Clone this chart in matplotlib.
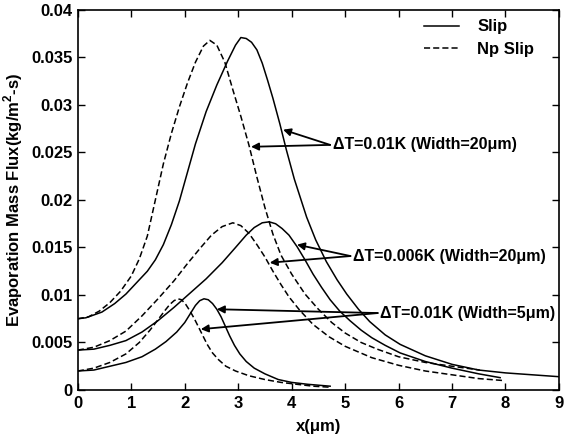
import numpy as np
import matplotlib
matplotlib.use('Agg')
import matplotlib.pyplot as plt

plt.rcParams['font.family'] = ['Liberation Sans', 'DejaVu Sans']
plt.rcParams['font.weight'] = 'bold'
plt.rcParams['mathtext.fontset'] = 'custom'
plt.rcParams['mathtext.bf'] = 'Liberation Sans:bold'
plt.rcParams['mathtext.rm'] = 'Liberation Sans:bold'

# dT=0.01K, width=20um
slip1_x = [0, 0.15, 0.45, 0.69, 0.9, 1.1, 1.3, 1.45, 1.6, 1.75, 1.9, 2.05, 2.2, 2.4, 2.6, 2.8,
           2.95, 3.05, 3.15, 3.25, 3.35, 3.45, 3.55, 3.65, 3.78, 3.9, 4.05, 4.28, 4.45, 4.65, 4.85,
           5.03, 5.25, 5.46, 5.75, 6.03, 6.5, 7.0, 7.5, 8.0, 8.5, 9.0]
slip1_y = [0.0075, 0.0076, 0.0082, 0.0091, 0.0101, 0.0113, 0.0125, 0.0137, 0.0153, 0.0174, 0.0199,
           0.0229, 0.0259, 0.0293, 0.0321, 0.0346, 0.0363, 0.0371, 0.0370, 0.0366, 0.0358, 0.0344,
           0.0326, 0.0307, 0.0280, 0.0253, 0.0222, 0.0182, 0.0158, 0.0135, 0.0116, 0.0101, 0.0085,
           0.0072, 0.0058, 0.0048, 0.0036, 0.0027, 0.0021, 0.0018, 0.0016, 0.0014]
noslip1_x = [0, 0.2, 0.4, 0.6, 0.8, 1.0, 1.15, 1.3, 1.45, 1.6, 1.75, 1.9, 2.05, 2.2, 2.35, 2.47,
             2.6, 2.75, 2.9, 3.05, 3.2, 3.35, 3.5, 3.65, 3.8, 4.0, 4.25, 4.5, 4.75, 5.0, 5.3, 5.6,
             6.0, 6.5, 7.0, 7.52]
noslip1_y = [0.0075, 0.0077, 0.0083, 0.0092, 0.0104, 0.0120, 0.0138, 0.0162, 0.0200, 0.0238, 0.0270,
             0.0298, 0.0323, 0.0345, 0.0362, 0.0368, 0.0363, 0.0345, 0.0316, 0.0288, 0.0258, 0.0224,
             0.0192, 0.0164, 0.0142, 0.0122, 0.0101, 0.0085, 0.0071, 0.0060, 0.0050, 0.0043, 0.0035,
             0.0029, 0.0025, 0.0021]

# dT=0.006K, width=20um
slip2_x = [0, 0.3, 0.6, 0.9, 1.2, 1.5, 1.8, 2.1, 2.4, 2.7, 2.95, 3.15, 3.3, 3.45, 3.58, 3.7, 3.82,
           3.95, 4.1, 4.25, 4.4, 4.56, 4.72, 4.9, 5.09, 5.3, 5.5, 5.75, 6.03, 6.5, 7.0, 7.5, 7.9]
slip2_y = [0.0042, 0.0043, 0.0047, 0.0052, 0.0061, 0.0073, 0.0087, 0.0102, 0.0117, 0.0134, 0.0150,
           0.0163, 0.0171, 0.0176, 0.0177, 0.0175, 0.0170, 0.0163, 0.0151, 0.0137, 0.0122, 0.0108,
           0.0095, 0.0083, 0.0073, 0.0063, 0.0055, 0.0047, 0.0039, 0.0030, 0.0023, 0.0017, 0.0013]
noslip2_x = [0, 0.3, 0.6, 0.9, 1.2, 1.5, 1.8, 2.05, 2.3, 2.5, 2.7, 2.9, 3.05, 3.2, 3.35, 3.5, 3.65,
             3.8, 3.95, 4.15, 4.4, 4.7, 5.0, 5.5, 6.0, 6.5, 7.0, 7.5, 7.95]
noslip2_y = [0.0042, 0.0045, 0.0052, 0.0062, 0.0078, 0.0096, 0.0115, 0.0133, 0.0150, 0.0163, 0.0172,
             0.0176, 0.0173, 0.0165, 0.0153, 0.0140, 0.0125, 0.0111, 0.0098, 0.0084, 0.0069, 0.0056,
             0.0046, 0.0034, 0.0026, 0.0020, 0.0016, 0.0012, 0.0010]

# dT=0.01K, width=5um
slip3_x = [0, 0.3, 0.6, 0.9, 1.2, 1.45, 1.65, 1.85, 2.0, 2.1, 2.2, 2.28, 2.36, 2.44, 2.52, 2.6,
           2.68, 2.76, 2.84, 2.93, 3.03, 3.15, 3.3, 3.5, 3.75, 4.0, 4.3, 4.72]
slip3_y = [0.0020, 0.0021, 0.0025, 0.0029, 0.0035, 0.0043, 0.0051, 0.0061, 0.0071, 0.0080, 0.0089,
           0.0094, 0.0096, 0.0095, 0.0091, 0.0085, 0.0077, 0.0067, 0.0057, 0.0047, 0.0038, 0.0030,
           0.0023, 0.0017, 0.0011, 0.0008, 0.0006, 0.0004]
noslip3_x = [0, 0.3, 0.6, 0.9, 1.15, 1.35, 1.5, 1.62, 1.72, 1.8, 1.87, 1.94, 2.02, 2.1, 2.18, 2.26,
             2.34, 2.42, 2.52, 2.63, 2.77, 2.95, 3.2, 3.5, 3.8, 4.1, 4.4, 4.7]
noslip3_y = [0.0020, 0.0023, 0.0029, 0.0038, 0.0050, 0.0063, 0.0074, 0.0083, 0.0090, 0.0094, 0.0096,
             0.0095, 0.0090, 0.0083, 0.0075, 0.0066, 0.0057, 0.0048, 0.0039, 0.0032, 0.0025, 0.0020,
             0.0015, 0.0011, 0.0008, 0.0006, 0.0004, 0.0003]

labels = ['\u0394T=0.01K (Width=20\u03bcm)', '\u0394T=0.006K (Width=20\u03bcm)',
          '\u0394T=0.01K (Width=5\u03bcm)']
label_pos = [(4.77, 0.0258), (5.15, 0.0141), (5.66, 0.0081)]
arrow_tips = [[(3.84, 0.0274), (3.24, 0.0256)],
              [(4.10, 0.0153), (3.59, 0.0134)],
              [(2.60, 0.0085), (2.30, 0.0064)]]

fig = plt.figure(figsize=(5.64, 4.38), dpi=100)
ax = fig.add_axes([0.138, 0.1096, 0.853, 0.8676])

lw = 1.1
dash = (4, 2)
ax.plot(slip1_x, slip1_y, 'k-', lw=lw, label='Slip')
ax.plot(noslip1_x, noslip1_y, 'k--', lw=lw, dashes=dash, label='Np Slip')
ax.plot(slip2_x, slip2_y, 'k-', lw=lw)
ax.plot(noslip2_x, noslip2_y, 'k--', lw=lw, dashes=dash)
ax.plot(slip3_x, slip3_y, 'k-', lw=lw)
ax.plot(noslip3_x, noslip3_y, 'k--', lw=lw, dashes=dash)

for lab, pos, tips in zip(labels, label_pos, arrow_tips):
    ax.text(pos[0], pos[1], lab, fontsize=11.5, fontweight='bold', va='center', ha='left')
    for tip in tips:
        ax.annotate('', xy=tip, xytext=(pos[0] - 0.05, pos[1]),
                    arrowprops=dict(arrowstyle='-|>', color='k', lw=1.3,
                                    mutation_scale=11, shrinkA=0, shrinkB=0))

ax.set_xlim(0, 9)
ax.set_ylim(0, 0.04)
ax.set_xticks(np.arange(0, 10, 1))
yt = np.arange(0, 0.0401, 0.005).round(3)
ax.set_yticks(yt)
ax.set_yticklabels([f'{v:g}' for v in yt])
ax.tick_params(direction='in', top=True, right=True, length=5, width=1, labelsize=12, pad=4)
for s in ax.spines.values():
    s.set_linewidth(1.2)

ax.set_xlabel('x(\u03bcm)', fontsize=12, fontweight='bold', labelpad=6)
ax.set_ylabel('Evaporation Mass Flux(kg/m$^\\mathbf{2}$-s)', fontsize=12, fontweight='bold', labelpad=4)

ax.legend(loc='upper left', bbox_to_anchor=(0.702, 0.997), frameon=False, fontsize=12,
          handlelength=2.1, handletextpad=1.1, labelspacing=0.45, borderpad=0)

fig.savefig('out.png', dpi=100)
